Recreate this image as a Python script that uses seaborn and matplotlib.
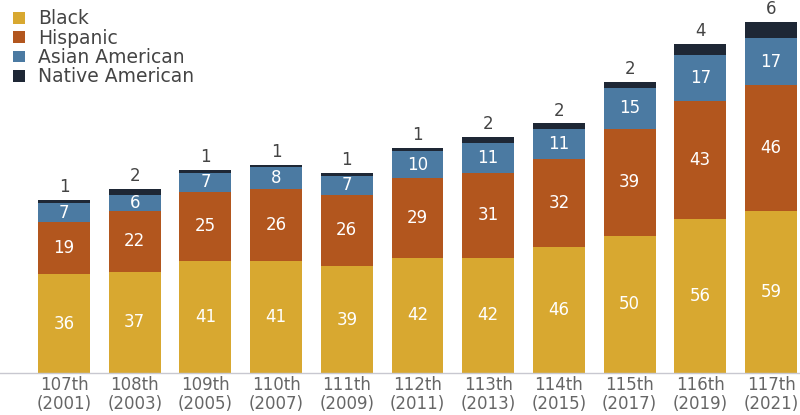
import numpy as np
import pandas as pd
import matplotlib
matplotlib.use("Agg")
import matplotlib.pyplot as plt
import seaborn as sns

congress = ["107th", "108th", "109th", "110th", "111th", "112th",
            "113th", "114th", "115th", "116th", "117th"]
years = ["2001", "2003", "2005", "2007", "2009", "2011",
         "2013", "2015", "2017", "2019", "2021"]
black = [36, 37, 41, 41, 39, 42, 42, 46, 50, 56, 59]
hispanic = [19, 22, 25, 26, 26, 29, 31, 32, 39, 43, 46]
asian = [7, 6, 7, 8, 7, 10, 11, 11, 15, 17, 17]
native = [1, 2, 1, 1, 1, 1, 2, 2, 2, 4, 6]

groups = ["Black", "Hispanic", "Asian American", "Native American"]
colors = ["#D8A830", "#B2561E", "#4B7AA2", "#1E2735"]

sns.set_theme(style="white")
plt.rcParams["font.family"] = ["DejaVu Sans"]

labels = [f"{c}\n({y})" for c, y in zip(congress, years)]
df = pd.DataFrame({"label": labels, "Black": black, "Hispanic": hispanic,
                   "Asian American": asian, "Native American": native})
cum = df[groups].cumsum(axis=1)

fig = plt.figure(figsize=(8, 4.15), dpi=100)
ax = fig.add_axes([0, 42 / 415, 1, 373 / 415])

# stacked bars: draw cumulative totals from the top segment down
for g, col in reversed(list(zip(groups, colors))):
    sns.barplot(x=df["label"], y=cum[g], color=col, width=0.735,
                saturation=1, ax=ax, order=labels, label=g, linewidth=0)

# value labels
for i in range(len(df)):
    base = 0
    for g in groups[:3]:
        v = df.loc[i, g]
        ax.text(i, base + v / 2, str(v), ha="center", va="center",
                color="white", fontsize=12)
        base += v
    ax.text(i, cum.loc[i, "Native American"] + 1.4, str(df.loc[i, "Native American"]),
            ha="center", va="bottom", color="#444444", fontsize=12)

ax.set_xlim(-0.905, 10.41)
ax.set_ylim(0, 136)
ax.set_xlabel("")
ax.set_ylabel("")
ax.set_yticks([])
ax.tick_params(axis="x", length=0, pad=2.5, labelsize=12, labelcolor="#666666")
for t in ax.get_xticklabels():
    t.set_linespacing(1.05)
for s in ["top", "right", "left"]:
    ax.spines[s].set_visible(False)
ax.spines["bottom"].set_color("#c8c8d0")
ax.spines["bottom"].set_linewidth(1)

handles, lbls = ax.get_legend_handles_labels()
order = [lbls.index(g) for g in groups]
leg = ax.legend([handles[k] for k in order], groups, loc="upper left",
                bbox_to_anchor=(0.005, 1.0), frameon=False, fontsize=13.5,
                handlelength=0.6, handleheight=0.6, handletextpad=0.7,
                labelspacing=0.02, borderaxespad=0.1)
for t in leg.get_texts():
    t.set_color("#444444")

fig.savefig("out.png", dpi=100)
